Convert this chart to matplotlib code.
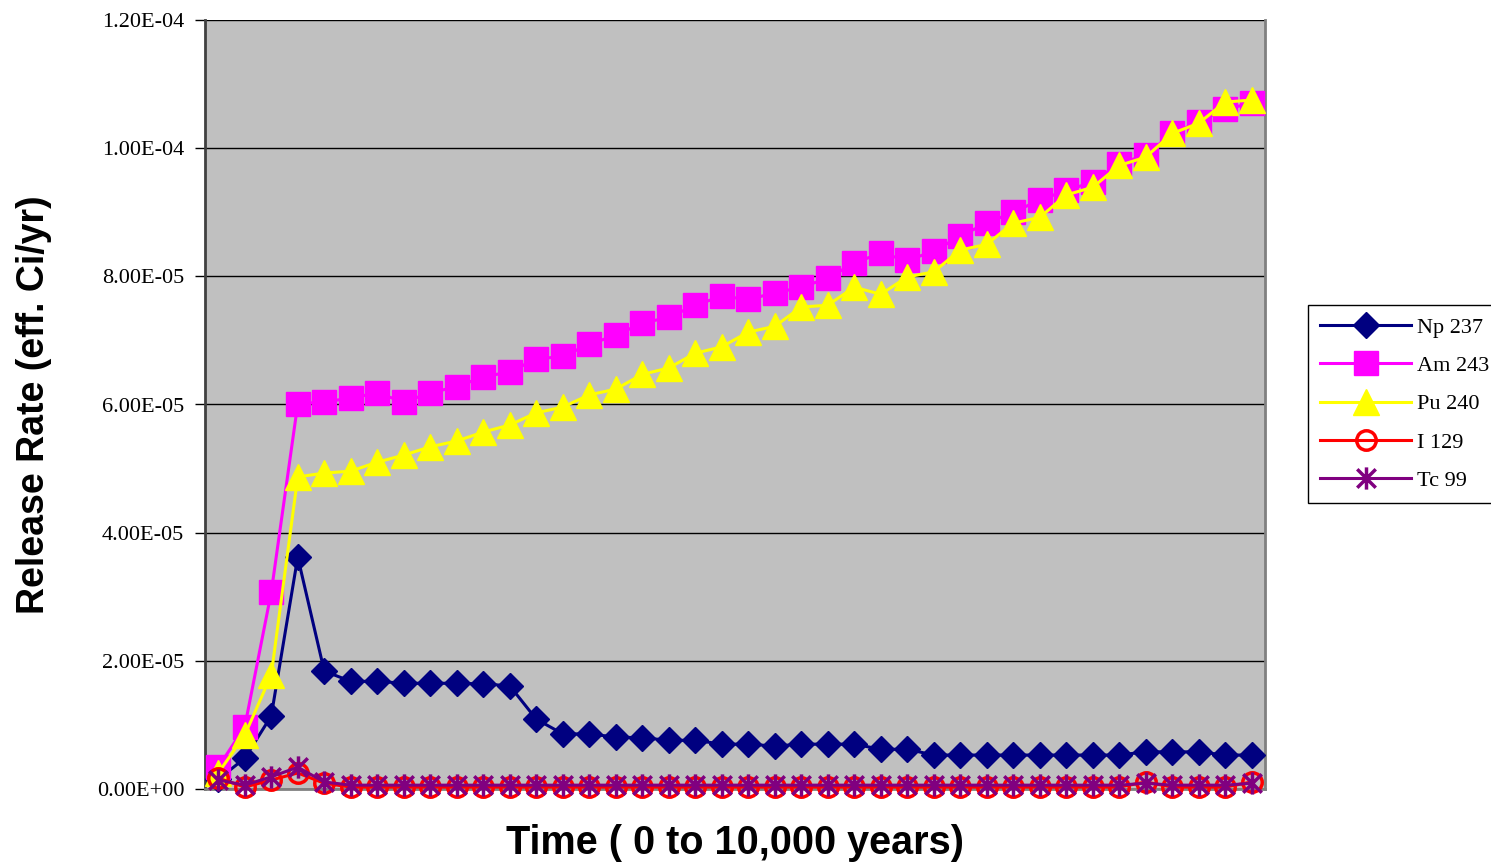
import matplotlib
matplotlib.use("Agg")
import matplotlib.pyplot as plt
from matplotlib.path import Path
import numpy as np

# ---- data (values in units of 1e-6 Ci/yr), 40 time steps ----
np237 = [1.5, 4.8, 11.4, 36.2, 18.4, 16.8, 16.8, 16.5, 16.5, 16.5,
         16.4, 16.1, 10.9, 8.6, 8.6, 8.1, 8.0, 7.6, 7.6, 7.0,
         7.0, 6.7, 7.0, 7.0, 7.0, 6.2, 6.2, 5.3, 5.3, 5.3,
         5.3, 5.3, 5.3, 5.3, 5.3, 5.8, 5.8, 5.8, 5.3, 5.3]
am243 = [3.4, 9.7, 30.7, 60.1, 60.4, 61.0, 61.8, 60.4, 61.8, 62.8,
         64.3, 65.1, 67.1, 67.5, 69.4, 70.8, 72.7, 73.6, 75.5, 76.9,
         76.4, 77.4, 78.3, 79.7, 82.1, 83.6, 82.5, 83.9, 86.3, 88.3,
         90.0, 91.9, 93.4, 94.7, 97.6, 98.9, 102.3, 104.1, 106.1, 107.0]
pu240 = [2.5, 8.4, 17.8, 48.7, 49.3, 49.6, 51.0, 52.1, 53.4, 54.3,
         55.7, 56.8, 58.7, 59.6, 61.5, 62.4, 64.7, 65.7, 68.0, 69.0,
         71.3, 72.2, 75.2, 75.5, 78.3, 77.2, 79.9, 80.7, 84.1, 85.0,
         88.3, 89.2, 92.7, 93.9, 97.3, 98.6, 102.3, 103.9, 107.2, 107.5]
i129 = [1.7, 0.3, 1.4, 2.5, 0.9, 0.3, 0.3, 0.3, 0.3, 0.3,
        0.3, 0.3, 0.3, 0.3, 0.3, 0.3, 0.3, 0.3, 0.3, 0.3,
        0.3, 0.3, 0.3, 0.3, 0.3, 0.3, 0.3, 0.3, 0.3, 0.3,
        0.3, 0.3, 0.3, 0.3, 0.3, 1.1, 0.3, 0.3, 0.3, 1.1]
tc99 = [1.4, 0.6, 1.9, 3.4, 1.1, 0.6, 0.6, 0.6, 0.6, 0.6,
        0.6, 0.6, 0.6, 0.6, 0.6, 0.6, 0.6, 0.6, 0.6, 0.6,
        0.6, 0.6, 0.6, 0.6, 0.6, 0.6, 0.6, 0.6, 0.6, 0.6,
        0.6, 0.6, 0.6, 0.6, 0.6, 0.9, 0.6, 0.6, 0.6, 0.9]
series_names = ["Np 237", "Am 243", "Pu 240", "I 129", "Tc 99"]
ytick_vals = [0, 2e-5, 4e-5, 6e-5, 8e-5, 1e-4, 1.2e-4]
ytick_labels = ["0.00E+00", "2.00E-05", "4.00E-05", "6.00E-05",
                "8.00E-05", "1.00E-04", "1.20E-04"]

x = np.arange(len(np237))
scale = 1e-6

star = Path([(-1, -1), (1, 1), (-1, 1), (1, -1), (0, -1.2), (0, 1.2)],
            [Path.MOVETO, Path.LINETO, Path.MOVETO, Path.LINETO, Path.MOVETO, Path.LINETO])

fig = plt.figure(figsize=(14.91, 8.63), dpi=100)
ax = fig.add_axes([205 / 1491, 74 / 863, 1060 / 1491, 769 / 863])
ax.set_facecolor("#C0C0C0")

lw = 2.2
ax.plot(x, np.array(np237) * scale, color="#000080", lw=lw, marker="D", ms=13.5,
        mec="#000080", mfc="#000080", label=series_names[0], zorder=3, clip_on=False)
ax.plot(x, np.array(am243) * scale, color="#FF00FF", lw=lw, marker="s", ms=17,
        mec="#FF00FF", mfc="#FF00FF", label=series_names[1], zorder=3, clip_on=False)
ax.plot(x, np.array(pu240) * scale, color="#FFFF00", lw=lw, marker="^", ms=19,
        mec="#FFFF00", mfc="#FFFF00", label=series_names[2], zorder=3, clip_on=False)
ax.plot(x, np.array(i129) * scale, color="#FF0000", lw=lw, marker="o", ms=14,
        mec="#FF0000", mfc="none", mew=2.5, label=series_names[3], zorder=3, clip_on=False)
ax.plot(x, np.array(tc99) * scale, color="#800080", lw=lw, marker=star, ms=16,
        mec="#800080", mfc="none", mew=2.5, label=series_names[4], zorder=3, clip_on=False)

ax.set_xlim(-0.5, len(x) - 0.5)
ax.set_ylim(0, 1.2e-4)
ax.set_xticks([])
ax.set_yticks(ytick_vals)
ax.set_yticklabels(ytick_labels, fontfamily="Liberation Serif", fontsize=16)
ax.tick_params(axis="y", direction="out", length=7, width=1, pad=8, colors="black")
ax.yaxis.grid(True, color="black", lw=1)
ax.set_axisbelow(True)
for side in ["top", "right", "bottom"]:
    ax.spines[side].set_color("#808080")
    ax.spines[side].set_linewidth(2)
ax.spines["top"].set_visible(False)
ax.spines["left"].set_color("#404040")
ax.spines["left"].set_linewidth(2)

ax.set_xlabel("Time ( 0 to 10,000 years)", fontsize=28.5, fontweight="bold",
              family=["Liberation Sans", "DejaVu Sans"], labelpad=25)
ax.set_ylabel("Release Rate (eff. Ci/yr)", fontsize=27, fontweight="bold",
              family=["Liberation Sans", "DejaVu Sans"])
ax.yaxis.set_label_coords(-0.1445, 0.5)

leg = fig.legend(loc="upper left", bbox_to_anchor=(1308 / 1491, 1 - 305 / 863),
                 frameon=True, fancybox=False, edgecolor="black", framealpha=1,
                 prop={"family": "Liberation Serif", "size": 16},
                 handlelength=4.1, handletextpad=0.25, labelspacing=0.8,
                 borderpad=0.55, borderaxespad=0)
leg.get_frame().set_linewidth(1)

fig.savefig("out.png", dpi=100)
